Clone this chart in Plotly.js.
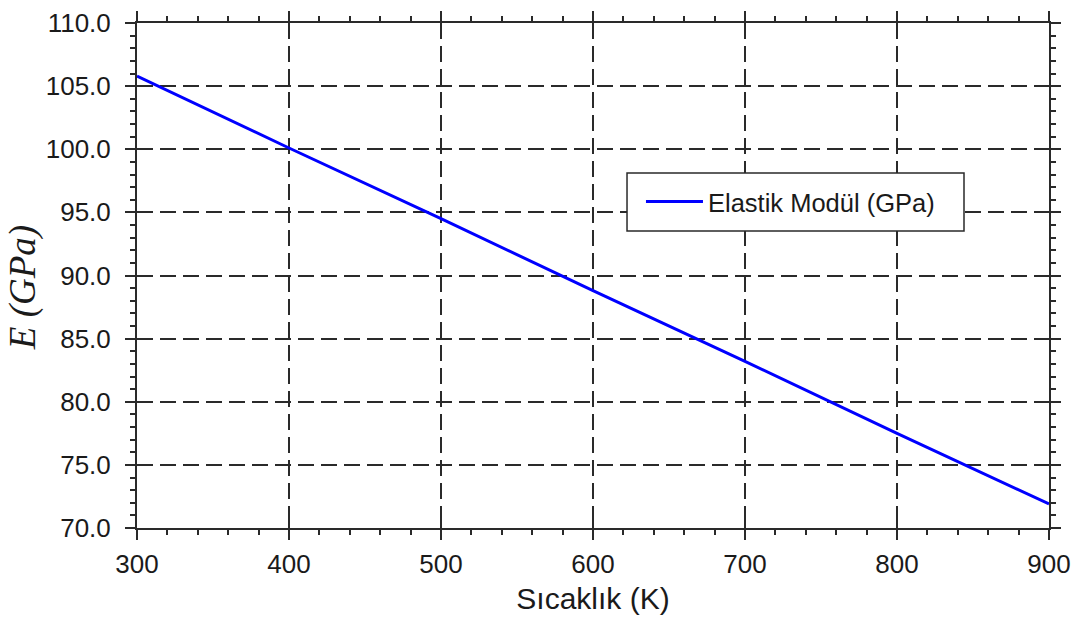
<!DOCTYPE html>
<html>
<head>
<meta charset="utf-8">
<script src="https://cdn.plot.ly/plotly-3.0.1.min.js"></script>
<style>html,body{margin:0;padding:0;background:#fff;}#chart{width:1075px;height:619px;}</style>
</head>
<body>
<div id="chart"></div>
<script>
// Data
const temperatureK = [300, 400, 500, 600, 700, 800, 900];
const elasticModulusGPa = [105.8, 100.1, 94.5, 88.8, 83.2, 77.5, 71.9];
const seriesName = 'Elastik Modül (GPa)';
const xTitle = 'Sıcaklık (K)';
const yTitle = 'E (GPa)';

const axisColor = '#2a2a2a';
const sans = 'Arial, "Liberation Sans", sans-serif';
const tickFont = {family: sans, size: 26, color: '#1a1a1a'};

const traces = [
  {
    x: temperatureK, y: elasticModulusGPa, type: 'scatter', mode: 'lines',
    name: seriesName, line: {color: '#0000ff', width: 3}, xaxis: 'x', yaxis: 'y'
  },
  {
    x: temperatureK, y: elasticModulusGPa, type: 'scatter', mode: 'lines',
    showlegend: false, hoverinfo: 'skip', opacity: 0,
    line: {color: '#0000ff', width: 0}, xaxis: 'x2', yaxis: 'y2'
  }
];

const baseAxis = {
  showline: true, linecolor: axisColor, linewidth: 2,
  mirror: 'allticks', zeroline: false,
  tickcolor: axisColor, tickwidth: 2, ticklen: 10
};

const layout = {
  width: 1075, height: 619,
  margin: {l: 137, r: 26, t: 23, b: 91},
  paper_bgcolor: '#ffffff', plot_bgcolor: '#ffffff',
  showlegend: true,
  legend: {
    x: 0.5526, y: 0.6455, xanchor: 'left', yanchor: 'middle',
    bgcolor: 'rgba(0,0,0,0)', borderwidth: 0,
    font: {family: sans, size: 25.5, color: '#1a1a1a'},
    itemwidth: 57
  },
  shapes: [{
    type: 'rect', xref: 'paper', yref: 'paper',
    x0: 0.5373, x1: 0.9068, y0: 0.5881, y1: 0.7030,
    fillcolor: '#ffffff', line: {color: axisColor, width: 1.5}, layer: 'above'
  }],
  annotations: [{
    text: '<i>' + yTitle + '</i>', xref: 'paper', yref: 'paper',
    x: -0.125, y: 0.475, xanchor: 'center', yanchor: 'middle',
    textangle: -90, showarrow: false,
    font: {family: '"Liberation Serif", "DejaVu Serif", serif', size: 37, color: '#1a1a1a'}
  }],
  xaxis: Object.assign({}, baseAxis, {
    range: [300, 900], dtick: 100, tick0: 300, ticks: 'outside',
    showgrid: true, gridcolor: axisColor, gridwidth: 2, griddash: '16px,7px',
    tickfont: tickFont, ticklabelstandoff: 2,
    minor: {ticks: 'outside', dtick: 20, ticklen: 5, tickwidth: 2, tickcolor: axisColor, showgrid: false},
    title: {text: xTitle, font: {family: sans, size: 30, color: '#1a1a1a'}, standoff: 10}
  }),
  yaxis: Object.assign({}, baseAxis, {
    range: [70, 110], dtick: 5, tick0: 70, ticks: 'outside', tickformat: '.1f',
    showgrid: true, gridcolor: axisColor, gridwidth: 2, griddash: '16px,7px',
    tickfont: tickFont, ticklabelstandoff: 9,
    minor: {ticks: 'outside', dtick: 1, ticklen: 5, tickwidth: 2, tickcolor: axisColor, showgrid: false}
  }),
  xaxis2: {
    overlaying: 'x', matches: 'x', range: [300, 900], dtick: 100, tick0: 300,
    ticks: 'inside', ticklen: 10, tickwidth: 2, tickcolor: axisColor,
    mirror: 'allticks', showline: false, showgrid: false, zeroline: false,
    showticklabels: false
  },
  yaxis2: {
    overlaying: 'y', matches: 'y', range: [70, 110], dtick: 5, tick0: 70,
    ticks: 'inside', ticklen: 10, tickwidth: 2, tickcolor: axisColor,
    mirror: 'allticks', showline: false, showgrid: false, zeroline: false,
    showticklabels: false
  }
};

Plotly.newPlot('chart', traces, layout, {displayModeBar: false, staticPlot: true});
</script>
</body>
</html>
